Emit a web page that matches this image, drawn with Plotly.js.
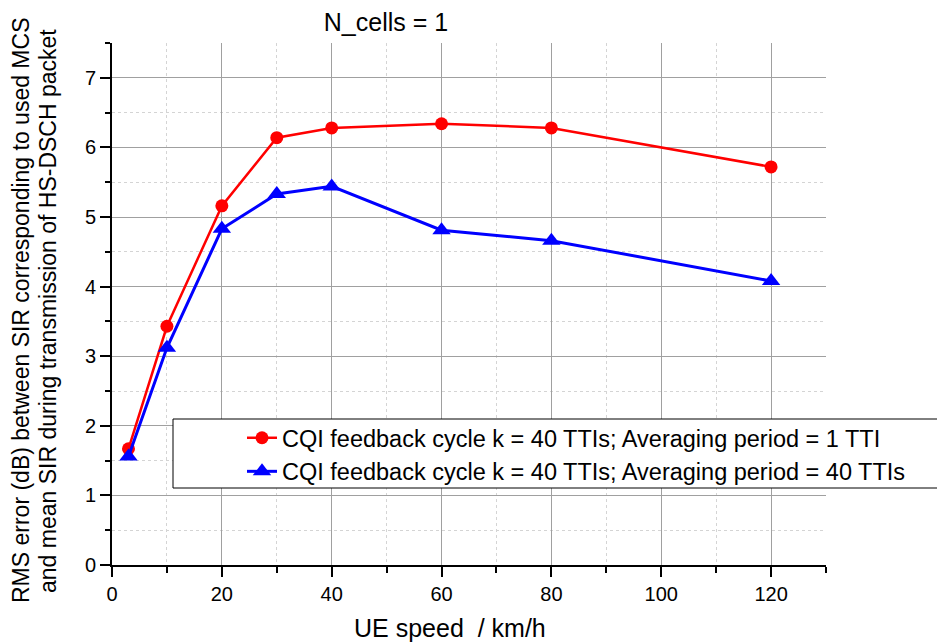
<!DOCTYPE html>
<html><head><meta charset="utf-8">
<script src="https://cdn.plot.ly/plotly-3.0.1.min.js"></script>
<style>html,body{margin:0;padding:0;background:#fff}</style>
</head><body><div id="chart" style="width:937px;height:644px"></div>
<script>
const speed = [3, 10, 20, 30, 40, 60, 80, 120];
const rmsAvg1 = [1.67, 3.43, 5.16, 6.14, 6.28, 6.34, 6.28, 5.72];
const rmsAvg40 = [1.56, 3.12, 4.83, 5.33, 5.44, 4.81, 4.66, 4.08];
const seriesNames = [
  'CQI feedback cycle k = 40 TTIs; Averaging period = 1 TTI',
  'CQI feedback cycle k = 40 TTIs; Averaging period = 40 TTIs'
];
const xTicks = [0, 20, 40, 60, 80, 100, 120];
const yTicks = [0, 1, 2, 3, 4, 5, 6, 7];
const chartTitle = 'N_cells = 1';
const xTitle = 'UE speed\u00a0 / km/h';
const yTitleLines = [
  'RMS error (dB) between SIR corresponding to used MCS',
  'and mean SIR during transmission of HS-DSCH packet'
];

const FONT = 'Liberation Sans, Arial, sans-serif';
const W = 937, H = 644, L = 112, R = 111, T = 43, B = 79;
const pw = W - L - R, ph = H - T - B;
const px2x = p => (p - L) / pw;
const px2y = p => (H - B - p) / ph;

const traces = [
  {x: speed, y: rmsAvg1, name: seriesNames[0], type: 'scatter', mode: 'lines+markers',
   line: {color: '#ff0000', width: 2.5}, marker: {symbol: 'circle', size: 13, color: '#ff0000'}},
  {x: speed, y: rmsAvg40, name: seriesNames[1], type: 'scatter', mode: 'lines+markers',
   line: {color: '#0000ff', width: 3}, marker: {symbol: 'triangle-up', size: 16, color: '#0000ff'}}
];

const axisCommon = {
  showline: true, linecolor: '#000', linewidth: 2, mirror: false,
  ticks: 'outside', ticklen: 10, tickwidth: 2, tickcolor: '#000',
  showgrid: true, gridcolor: '#a0a0a0', gridwidth: 1,
  zeroline: false, tickfont: {family: FONT, size: 20, color: '#000'},
  tickmode: 'array'
};

const layout = {
  width: W, height: H,
  margin: {l: L, r: R, t: T, b: B, pad: 0},
  paper_bgcolor: '#fff', plot_bgcolor: '#fff',
  font: {family: FONT, color: '#000'},
  title: {text: chartTitle, font: {family: FONT, size: 25, color: '#000'},
          xref: 'container', yref: 'container', x: 386 / W, xanchor: 'center',
          y: 1 - 22 / H, yanchor: 'middle'},
  xaxis: Object.assign({}, axisCommon, {
    range: [0, 130], tickvals: xTicks, ticktext: xTicks.map(String),
    minor: {dtick: 10, tick0: 0, ticks: 'outside', ticklen: 6, tickwidth: 2, tickcolor: '#000',
            showgrid: true, gridcolor: '#d4d4d4', griddash: 'dot', gridwidth: 1}
  }),
  yaxis: Object.assign({}, axisCommon, {
    range: [0, 7.5], tickvals: yTicks, ticktext: yTicks.map(String),
    ticksuffix: '\u00a0\u00a0',
    minor: {dtick: 0.5, tick0: 0, ticks: 'outside', ticklen: 5, tickwidth: 2, tickcolor: '#000',
            showgrid: true, gridcolor: '#d4d4d4', griddash: 'dot', gridwidth: 1}
  }),
  showlegend: true,
  legend: {x: px2x(242), xanchor: 'left', y: px2y(455), yanchor: 'middle',
           bgcolor: 'rgba(0,0,0,0)', borderwidth: 0,
           font: {family: FONT, size: 23.5, color: '#000'}, tracegroupgap: 0},
  shapes: [
    {type: 'rect', xref: 'paper', yref: 'paper', x0: px2x(173), x1: px2x(960),
     y0: px2y(488), y1: px2y(419), line: {color: '#000', width: 1}, fillcolor: '#fff', layer: 'above'}
  ],
  annotations: [
    {text: xTitle, xref: 'paper', yref: 'paper', x: px2x(450), y: px2y(628),
     xanchor: 'center', yanchor: 'middle', showarrow: false,
     font: {family: FONT, size: 25, color: '#000'}},
    {text: yTitleLines[0], xref: 'paper', yref: 'paper', x: px2x(21), y: px2y(311),
     xanchor: 'center', yanchor: 'middle', showarrow: false, textangle: -90,
     font: {family: FONT, size: 23, color: '#000'}},
    {text: yTitleLines[1], xref: 'paper', yref: 'paper', x: px2x(48), y: px2y(311),
     xanchor: 'center', yanchor: 'middle', showarrow: false, textangle: -90,
     font: {family: FONT, size: 23, color: '#000'}}
  ]
};

Plotly.newPlot('chart', traces, layout, {staticPlot: true, displayModeBar: false});
</script></body></html>
